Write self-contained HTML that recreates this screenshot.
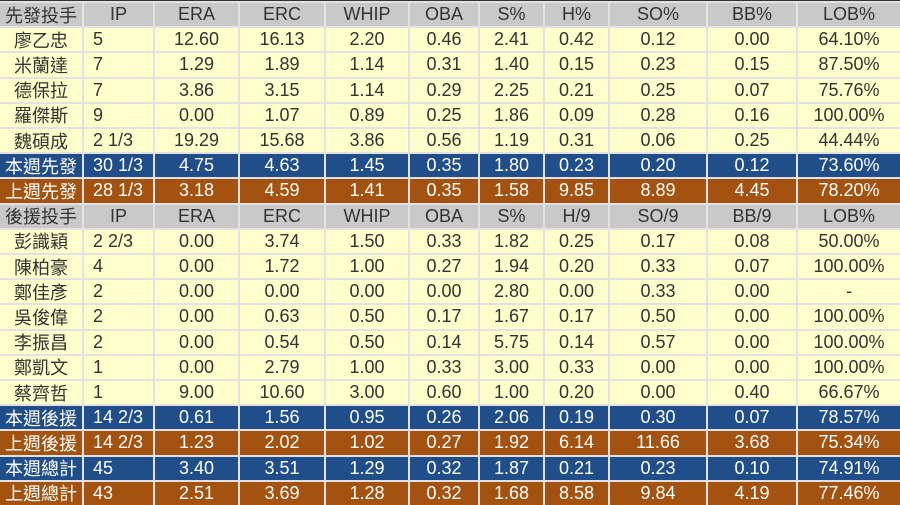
<!DOCTYPE html>
<html><head><meta charset="utf-8"><style>
html,body{margin:0;padding:0;background:#e4e4e4;}
.g{position:absolute;left:0;top:0;width:900px;height:505px;box-sizing:border-box;padding-top:2px;background:#e2e2e2;border-top:1px solid #333;
display:grid;grid-template-columns:82px 69px 83px 84px 82px 68px 63px 63px 96px 88px 1fr;grid-template-rows:repeat(20,1fr);gap:2px;
font-family:"Liberation Sans","Noto Sans CJK TC",sans-serif;font-size:18px;}
.g div{display:flex;align-items:center;justify-content:center;white-space:nowrap;overflow:hidden;}
.h{background:#c9c9c9;color:#333;}
.y{background:#ffffcc;color:#333;}
.b{background:#1f4e8a;color:#fff;}
.o{background:#a4520f;color:#fff;}
.g div.l{justify-content:flex-start;padding-left:9px;}
</style></head><body><div class="g" id="g"></div>
<script>
var rows=[
["h","先發投手","IP","ERA","ERC","WHIP","OBA","S%","H%","SO%","BB%","LOB%"],
["y","廖乙忠","5","12.60","16.13","2.20","0.46","2.41","0.42","0.12","0.00","64.10%"],
["y","米蘭達","7","1.29","1.89","1.14","0.31","1.40","0.15","0.23","0.15","87.50%"],
["y","德保拉","7","3.86","3.15","1.14","0.29","2.25","0.21","0.25","0.07","75.76%"],
["y","羅傑斯","9","0.00","1.07","0.89","0.25","1.86","0.09","0.28","0.16","100.00%"],
["y","魏碩成","2 1/3","19.29","15.68","3.86","0.56","1.19","0.31","0.06","0.25","44.44%"],
["b","本週先發","30 1/3","4.75","4.63","1.45","0.35","1.80","0.23","0.20","0.12","73.60%"],
["o","上週先發","28 1/3","3.18","4.59","1.41","0.35","1.58","9.85","8.89","4.45","78.20%"],
["h","後援投手","IP","ERA","ERC","WHIP","OBA","S%","H/9","SO/9","BB/9","LOB%"],
["y","彭識穎","2 2/3","0.00","3.74","1.50","0.33","1.82","0.25","0.17","0.08","50.00%"],
["y","陳柏豪","4","0.00","1.72","1.00","0.27","1.94","0.20","0.33","0.07","100.00%"],
["y","鄭佳彥","2","0.00","0.00","0.00","0.00","2.80","0.00","0.33","0.00","-"],
["y","吳俊偉","2","0.00","0.63","0.50","0.17","1.67","0.17","0.50","0.00","100.00%"],
["y","李振昌","2","0.00","0.54","0.50","0.14","5.75","0.14","0.57","0.00","100.00%"],
["y","鄭凱文","1","0.00","2.79","1.00","0.33","3.00","0.33","0.00","0.00","100.00%"],
["y","蔡齊哲","1","9.00","10.60","3.00","0.60","1.00","0.20","0.00","0.40","66.67%"],
["b","本週後援","14 2/3","0.61","1.56","0.95","0.26","2.06","0.19","0.30","0.07","78.57%"],
["o","上週後援","14 2/3","1.23","2.02","1.02","0.27","1.92","6.14","11.66","3.68","75.34%"],
["b","本週總計","45","3.40","3.51","1.29","0.32","1.87","0.21","0.23","0.10","74.91%"],
["o","上週總計","43","2.51","3.69","1.28","0.32","1.68","8.58","9.84","4.19","77.46%"]];
var h="";
rows.forEach(function(r){for(var i=1;i<r.length;i++){var l=(i==2&&r[0]!="h")?" l":"";h+='<div class="'+r[0]+l+'">'+r[i]+'</div>';}});
document.getElementById("g").innerHTML=h;
</script></body></html>
